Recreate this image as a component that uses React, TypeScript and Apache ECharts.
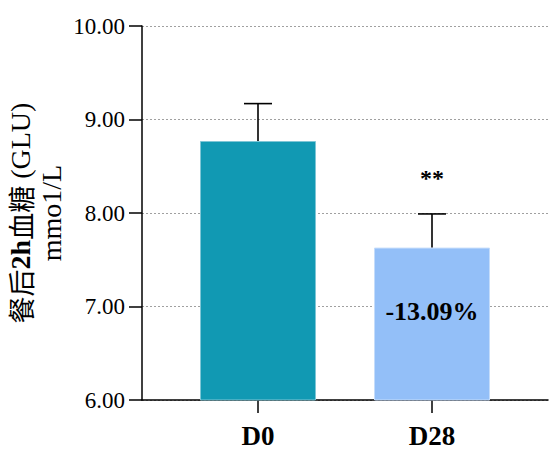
import React, { useEffect, useRef } from "react";
import * as echarts from "echarts";

const categories = ["D0", "D28"];
const means = [8.77, 7.63];
const upperErrors = [9.17, 7.99];
const pctLabels = ["", "-13.09%"];
const sigMarks = ["", "**"];
const yTicks = { min: 6, max: 10, interval: 1 };

const SERIF = "Liberation Serif";

export default function App() {
  const ref = useRef<HTMLDivElement>(null);
  useEffect(() => {
    if (!ref.current) return;
    const chart = echarts.init(ref.current, undefined, { renderer: "svg" });
    const idx = categories.map((_, i) => i);
    const option: any = {
      animation: false,
      backgroundColor: "#ffffff",
      grid: { left: 142, right: 9, top: 26, bottom: 55, containLabel: false, outerBoundsMode: "none" },
      xAxis: {
        type: "value",
        min: -2 / 3,
        max: 5 / 3,
        axisLine: { show: true, onZero: false, lineStyle: { color: "#000", width: 1.5 } },
        axisTick: { show: true, length: 13, customValues: idx, lineStyle: { color: "#000", width: 1.5 } },
        axisLabel: {
          show: true,
          customValues: idx,
          formatter: (v: number) => categories[Math.round(v)] ?? "",
          fontFamily: SERIF,
          fontWeight: "bold",
          fontSize: 27,
          color: "#000",
          margin: 22,
        },
        splitLine: { show: false },
      },
      yAxis: {
        type: "value",
        min: yTicks.min,
        max: yTicks.max,
        interval: yTicks.interval,
        name: "{a|餐后}{b|2h}{a|血糖}{c| (GLU)}\n{c|mmo1/L}",
        nameLocation: "middle",
        nameRotate: 90,
        nameGap: 75,
        nameMoveOverlap: false,
        nameTextStyle: {
          color: "#000",
          lineHeight: 31,
          rich: {
            a: { fontFamily: "Noto Sans CJK SC", fontSize: 27, color: "#000", lineHeight: 31 },
            b: { fontFamily: SERIF, fontWeight: "bold", fontSize: 28, color: "#000", lineHeight: 31 },
            c: { fontFamily: SERIF, fontSize: 28, color: "#000", lineHeight: 31 },
          },
        },
        axisLine: { show: true, onZero: false, lineStyle: { color: "#000", width: 1.5 } },
        axisTick: { show: true, length: 13, lineStyle: { color: "#000", width: 1.5 } },
        axisLabel: {
          formatter: (v: number) => v.toFixed(2),
          fontFamily: SERIF,
          fontSize: 23,
          color: "#000",
          margin: 17,
        },
        splitLine: { show: true, lineStyle: { color: "#a0a0a0", width: 1, type: [2, 2] } },
      },
      series: [
        {
          type: "bar",
          barWidth: 116,
          data: means.map((m, i) => ({
            value: [i, m],
            itemStyle: {
              color: i === 0 ? "#1199b3" : "#93bff8",
              borderColor: i === 0 ? "#7fc6d6" : "#c4dcfb",
              borderWidth: 1,
            },
          })),
          label: {
            show: true,
            position: ["50%", "42%"],
            align: "center",
            verticalAlign: "middle",
            formatter: (p: any) => pctLabels[p.dataIndex],
            fontFamily: SERIF,
            fontWeight: "bold",
            fontSize: 26,
            color: "#000",
          },
          z: 2,
        },
        {
          type: "custom",
          data: means.map((m, i) => [i, m, upperErrors[i]]),
          encode: { x: 0, y: 2 },
          z: 3,
          renderItem: (params: any, api: any) => {
            const x = api.value(0);
            const pMean = api.coord([x, api.value(1)]);
            const pTop = api.coord([x, api.value(2)]);
            const half = 14;
            const children: any[] = [
              { type: "line", shape: { x1: pMean[0], y1: pMean[1], x2: pTop[0], y2: pTop[1] }, style: { stroke: "#000", lineWidth: 1.6 } },
              { type: "line", shape: { x1: pTop[0] - half, y1: pTop[1], x2: pTop[0] + half, y2: pTop[1] }, style: { stroke: "#000", lineWidth: 1.6 } },
            ];
            const sig = sigMarks[params.dataIndex];
            if (sig) {
              children.push({
                type: "text",
                x: pTop[0],
                y: pTop[1] - 36,
                style: {
                  text: sig,
                  fill: "#000",
                  fontFamily: SERIF,
                  fontWeight: "bold",
                  fontSize: 24,
                  align: "center",
                  verticalAlign: "middle",
                },
              });
            }
            return { type: "group", children };
          },
        },
      ],
    };
    chart.setOption(option);
    return () => chart.dispose();
  }, []);
  return (
    <div
      ref={ref}
      style={{ position: "fixed", left: 0, top: 0, width: 557, height: 455 }}
    />
  );
}
